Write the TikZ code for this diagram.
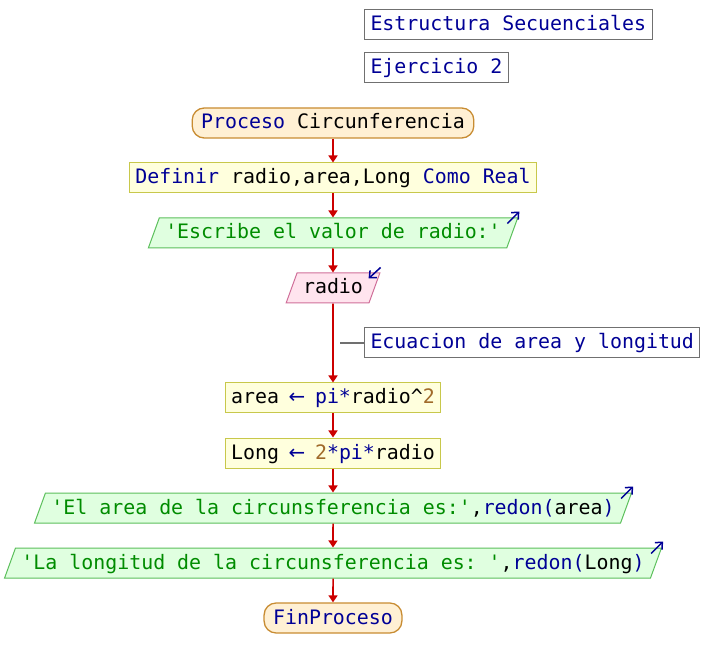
\documentclass[tikz,border=0pt]{standalone}
\usepackage{fontspec}
\setmonofont{DejaVu Sans Mono}
\newfontfamily\arrowfont{DejaVu Sans}
\usetikzlibrary{arrows.meta,shapes.geometric}

\definecolor{kwblue}{HTML}{000096}
\definecolor{strgreen}{HTML}{008C00}
\definecolor{numbrown}{HTML}{A06A2A}
\definecolor{flowred}{HTML}{CC0000}
\definecolor{termfill}{HTML}{FFF0D4}
\definecolor{termborder}{HTML}{C88C32}
\definecolor{procfill}{HTML}{FFFFDD}
\definecolor{procborder}{HTML}{C8C84B}
\definecolor{outfill}{HTML}{E0FFE0}
\definecolor{outborder}{HTML}{5CC05C}
\definecolor{infill}{HTML}{FFE4EE}
\definecolor{inborder}{HTML}{D0709A}
\definecolor{notegray}{HTML}{707070}

\newcommand{\codefont}{\ttfamily\fontsize{19.9pt}{22pt}\selectfont}
\newcommand{\kw}[1]{\textcolor{kwblue}{#1}}
\newcommand{\strg}[1]{\textcolor{strgreen}{#1}}
\newcommand{\numb}[1]{\textcolor{numbrown}{#1}}
\newcommand{\sq}{\textquotesingle}
\newcommand{\assignarrow}{\makebox[12pt]{\kw{\arrowfont ←}}}

\tikzset{
  base/.style={font=\codefont, text=black, inner xsep=6pt, inner ysep=5.5pt,
    text height=15.5pt, text depth=3.5pt, line width=1pt},
  terminal/.style={base, rectangle, rounded corners=12pt, inner xsep=9pt,
    draw=termborder, fill=termfill, line width=1.3pt},
  process/.style={base, rectangle, draw=procborder, fill=procfill},
  outbox/.style={base, trapezium, trapezium left angle=70, trapezium right angle=110,
    draw=outborder, fill=outfill},
  inbox/.style={base, trapezium, trapezium left angle=70, trapezium right angle=110,
    draw=inborder, fill=infill},
  note/.style={base, rectangle, draw=notegray, text=kwblue},
  note line/.style={draw=notegray, line width=1.2pt},
  flow/.style={draw=flowred, line width=1.6pt, -{Triangle[length=7pt,width=9pt]}},
  icon/.style={draw=kwblue, line width=1.5pt, -{Straight Barb[length=5.5pt,width=10pt]}}
}

\begin{document}
\begin{tikzpicture}[x=1pt, y=1pt]
	\useasboundingbox[fill=white] (0,0) rectangle (710,-668);
	\node[note, anchor=west] (title) at (364,-25) {Estructura Secuenciales};
	\node[note, anchor=west] (exer) at (364,-68) {Ejercicio 2};
	\node[terminal] (start) at (333,-123) {\kw{Proceso} Circunferencia};
	\node[process] (def) at (333,-178) {\kw{Definir} radio,area,Long \kw{Como Real}};
	\node[outbox] (out1) at (333,-233) {\strg{\sq Escribe el valor de radio:\sq}};
	\node[inbox] (in1) at (333,-288) {radio};
	\node[note, anchor=west] (remark) at (364,-343) {Ecuacion de area y longitud};
	\node[process] (calc1) at (333,-398) {area \assignarrow{} \kw{pi*}radio\textasciicircum\numb{2}};
	\node[process] (calc2) at (333,-453) {Long \assignarrow{} \numb{2}\kw{*pi*}radio};
	\node[outbox] (out2) at (333,-508) {\strg{\sq El area de la circunsferencia es:\sq},\kw{redon(}area\kw{)}};
	\node[outbox] (out3) at (333,-563) {\strg{\sq La longitud de la circunsferencia es: \sq},\kw{redon(}Long\kw{)}};
	\node[terminal] (stop) at (333,-618) {\kw{FinProceso}};
	\foreach \a/\b in {start/def, def/out1, out1/in1, in1/calc1, calc1/calc2, calc2/out2, out2/out3, out3/stop}
	  \draw[flow] (\a) -- (\b);
	\draw[note line] (remark.west) -- ++(-24,0);
	\foreach \o in {out1, out2, out3}
	  \draw[icon] ([shift={(-11,-6)}]\o.top right corner) -- ++(12,12);
	\draw[icon] ([shift={(0,5)}]in1.top right corner) -- ++(-12,-11);
\end{tikzpicture}
\end{document}
